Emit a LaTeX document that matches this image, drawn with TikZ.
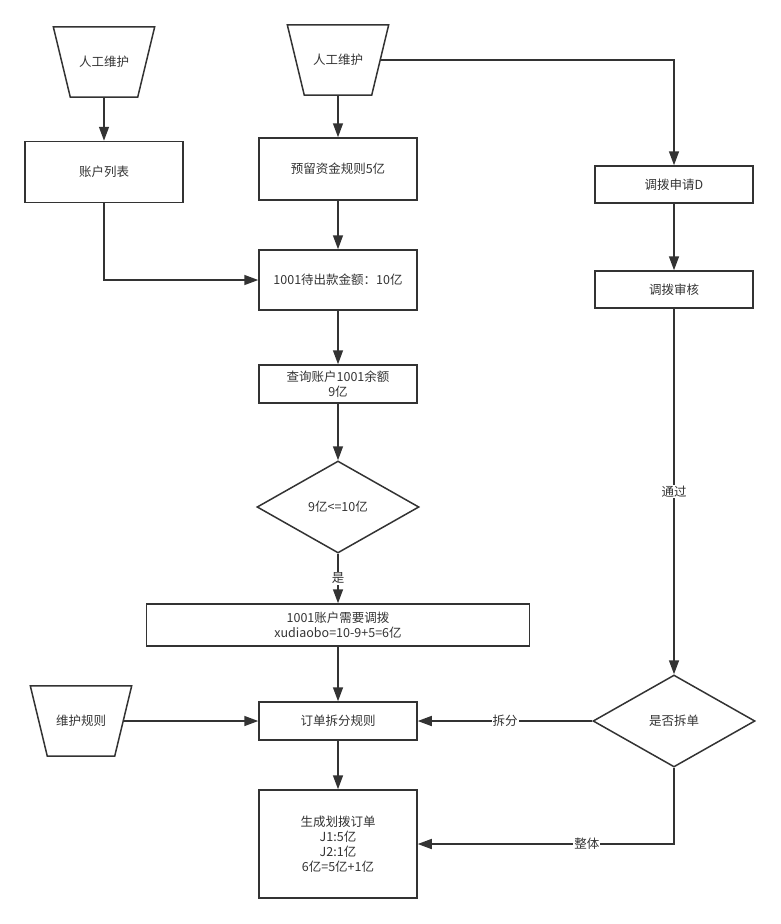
\documentclass[tikz,border=0pt]{standalone}
\usepackage{fontspec}
\setmainfont{Noto Sans CJK SC}
\usepackage{tikz}
\usetikzlibrary{arrows.meta,shapes.geometric}

\begin{document}
\begin{tikzpicture}[x=1pt,y=-1pt,
    every node/.style={font=\fontsize{12.5}{15}\selectfont,text=black!80},
    proc/.style={draw=black!80,line width=1.5pt,minimum width=158pt,align=center,inner sep=2pt},
    manual/.style={minimum width=101pt,minimum height=70pt,inner sep=0pt},
    trap/.style={draw=black!80,line width=1.5pt,line join=miter},
    choice/.style={draw=black!80,line width=1.5pt,diamond,minimum width=162pt,minimum height=92pt,inner sep=0pt},
    flow/.style={draw=black!80,line width=1.5pt,-{Triangle[length=14pt,width=10pt]}},
    lbl/.style={fill=white,inner sep=1pt}]
      \useasboundingbox (0,0) rectangle (781,924);
      \node[manual] (104 62) at (104,62) {人工维护};
      \node[manual] (338 60) at (338,60) {人工维护};
      \node[manual] (81 721) at (81,721) {维护规则};
      \foreach \t in {104 62,338 60,81 721}
        \draw [trap] (\t.north west) -- (\t.north east) -- ([xshift=-17pt]\t.south east)
                     -- ([xshift=17pt]\t.south west) -- cycle;
      \node[proc,minimum height=61pt] (104 172) at (104,172) {账户列表};
      \node[proc,minimum height=62pt] (338 169) at (338,169) {预留资金规则5亿};
      \node[proc,minimum height=60pt] (338 280) at (338,280) {1001待出款金额：10亿};
      \node[proc,minimum height=38pt] (338 384) at (338,384) {查询账户1001余额\\9亿};
      \node[choice] (338 507) at (338,507) {9亿<=10亿};
      \node[proc,minimum width=383pt,minimum height=42pt] (338 625) at (338,625) {1001账户需要调拨\\xudiaobo=10-9+5=6亿};
      \node[proc,minimum height=38pt] (338 721) at (338,721) {订单拆分规则};
      \node[proc,minimum height=108pt] (338 844) at (338,844) {生成划拨订单\\J1:5亿\\J2:1亿\\6亿=5亿+1亿};
      \node[proc,minimum height=37pt] (674 184) at (674,184.5) {调拨申请D};
      \node[proc,minimum height=37pt] (674 290) at (674,289.5) {调拨审核};
      \node[choice] (674 721) at (674,721) {是否拆单};
      \draw [flow] (104 62) -- (104 172);
      \draw [flow] (104 172.south) |- (338 280.west);
      \draw [flow] (338 60) -- (338 169);
      \draw [flow] (338 169) -- (338 280);
      \draw [flow] (338 280) -- (338 384);
      \draw [flow] (338 384) -- (338 507);
      \draw [flow] (338 507) -- node[lbl] {是} (338 625);
      \draw [flow] (338 625) -- (338 721);
      \draw [flow] ([xshift=-8pt]81 721.east) -- (338 721);
      \draw [flow] (338 721) -- (338 844);
      \draw [flow] ([xshift=-8pt]338 60.east) -| (674 184.north);
      \draw [flow] (674 184) -- (674 290);
      \draw [flow] (674 290) -- node[lbl] {通过} (674 721);
      \draw [flow] (674 721) -- node[lbl] {拆分} (338 721);
      \draw [flow] (674 721.south) |- node[lbl,pos=0.67] {整体} (338 844.east);
    \end{tikzpicture}
\end{document}
